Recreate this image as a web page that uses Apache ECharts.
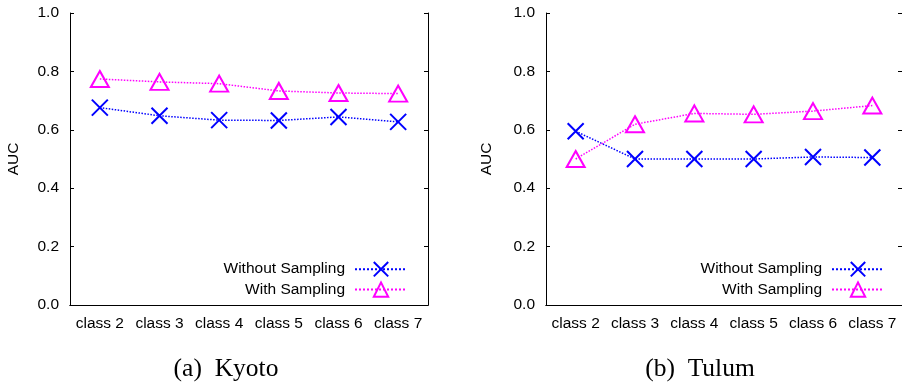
<!DOCTYPE html>
<html>
<head>
    <meta charset="utf-8">
    <title>AUC - Kyoto / Tulum</title>
    <script src="https://cdn.jsdelivr.net/npm/echarts@6/dist/echarts.min.js"></script>
</head>
<body style="margin:0">
    <div id="main" style="width:902px;height:385px;"></div>
    <script type="text/javascript">
        var categories = ['class 2', 'class 3', 'class 4', 'class 5', 'class 6', 'class 7'];
        var yTicks = [0, 0.2, 0.4, 0.6, 0.8, 1.0];

        // (a) Kyoto
        var kyotoWithout = [0.676, 0.648, 0.633, 0.632, 0.644, 0.627];
        var kyotoWith = [0.774, 0.764, 0.758, 0.733, 0.726, 0.724];
        // (b) Tulum
        var tulumWithout = [0.595, 0.500, 0.500, 0.500, 0.507, 0.505];
        var tulumWith = [0.500, 0.619, 0.656, 0.653, 0.664, 0.683];

        var captions = ['(a)  Kyoto', '(b)  Tulum'];

        var font = 'Liberation Sans';
        var fs = 15.5;
        var blue = '#0000ff';
        var magenta = '#ff00ff';
        var crossPath = 'path://M0,0L16,16M16,0L0,16';

        var dom = document.getElementById('main');
        var myChart = echarts.init(dom);

        var grids = [
            { left: 70, top: 13, width: 358, height: 292 },
            { left: 546, top: 13, width: 358, height: 292 }
        ];

        var xAxes = [], yAxes = [];
        grids.forEach(function (g, i) {
            xAxes.push({
                type: 'category', gridIndex: i, data: categories, position: 'bottom',
                axisLine: { lineStyle: { color: '#000', width: 1 } },
                axisTick: { inside: true, alignWithLabel: true, interval: 0, length: 4, lineStyle: { color: '#000' } },
                axisLabel: { color: '#000', fontFamily: font, fontSize: fs, margin: 11, interval: 0 }
            });
            xAxes.push({
                type: 'category', gridIndex: i, data: categories, position: 'top',
                axisLine: { lineStyle: { color: '#000', width: 1 } },
                axisTick: { inside: true, alignWithLabel: true, interval: 0, length: 4, lineStyle: { color: '#000' } },
                axisLabel: { show: false }
            });
            yAxes.push({
                type: 'value', gridIndex: i, min: 0, max: 1, interval: 0.2, position: 'left',
                name: 'AUC', nameLocation: 'middle', nameGap: i === 0 ? 48 : 51,
                nameTextStyle: { color: '#000', fontFamily: font, fontSize: fs },
                splitLine: { show: false },
                axisLine: { show: true, lineStyle: { color: '#000', width: 1 } },
                axisTick: { show: true, inside: true, length: 4, lineStyle: { color: '#000' } },
                axisLabel: {
                    color: '#000', fontFamily: font, fontSize: fs, margin: 11,
                    formatter: function (v) { return v.toFixed(1); }
                }
            });
            yAxes.push({
                type: 'value', gridIndex: i, min: 0, max: 1, interval: 0.2, position: 'right',
                splitLine: { show: false },
                axisLine: { show: true, lineStyle: { color: '#000', width: 1 } },
                axisTick: { show: true, inside: true, length: 4, lineStyle: { color: '#000' } },
                axisLabel: { show: false }
            });
        });

        function makeSeries(name, data, idx, kind) {
            var isCross = kind === 'cross';
            var color = isCross ? blue : magenta;
            return {
                name: name, type: 'line', data: data,
                xAxisIndex: idx * 2, yAxisIndex: idx * 2,
                symbol: isCross ? crossPath : 'triangle',
                symbolSize: isCross ? 16 : [18, 16],
                showAllSymbol: true,
                itemStyle: { color: 'transparent', borderColor: color, borderWidth: 2 },
                lineStyle: { color: color, width: 1.5, type: 'dotted' },
                emphasis: { disabled: true },
                animation: false
            };
        }

        var series = [
            makeSeries('Without Sampling', kyotoWithout, 0, 'cross'),
            makeSeries('With Sampling', kyotoWith, 0, 'tri'),
            makeSeries('Without Sampling', tulumWithout, 1, 'cross'),
            makeSeries('With Sampling', tulumWith, 1, 'tri')
        ];

        function makeLegend(right) {
            return {
                orient: 'vertical', align: 'right', right: right, top: 261,
                padding: 0,
                itemWidth: 52, itemHeight: 18, itemGap: 4,
                selectedMode: false,
                textStyle: { color: '#000', fontFamily: font, fontSize: fs, padding: [0, 5, 0, 0] },
                data: ['Without Sampling', 'With Sampling']
            };
        }

        var option = {
            animation: false,
            grid: grids,
            xAxis: xAxes,
            yAxis: yAxes,
            legend: [makeLegend(902 - 408), makeLegend(902 - 885)],
            series: series,
            graphic: captions.map(function (t, i) {
                return {
                    type: 'text', x: i === 0 ? 226 : 700, y: 369,
                    style: {
                        text: t, fill: '#000', fontFamily: 'Liberation Serif', fontSize: 25.5,
                        textAlign: 'center', textVerticalAlign: 'middle'
                    }
                };
            })
        };

        myChart.setOption(option, true);
    </script>
</body>
</html>
